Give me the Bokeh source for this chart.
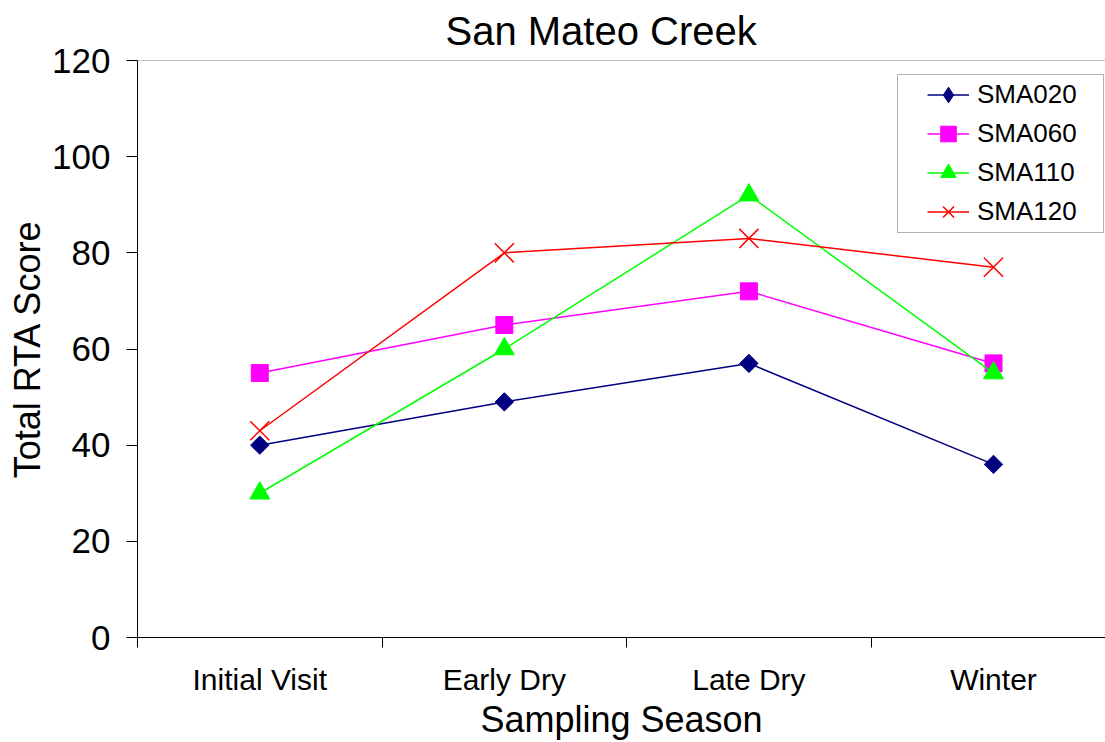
import math
from bokeh.plotting import figure
from bokeh.models import (Range1d, FixedTicker, Legend, LegendItem, Span,
                          BoxAnnotation, ColumnDataSource)
from bokeh.embed import file_html
from bokeh.resources import INLINE

# ---------------- data ----------------
seasons = ["Initial Visit", "Early Dry", "Late Dry", "Winter"]
sma020 = [40, 49, 57, 36]
sma060 = [55, 65, 72, 57]
sma110 = [30, 60, 92, 55]
sma120 = [43, 80, 83, 77]
series_names = ["SMA020", "SMA060", "SMA110", "SMA120"]
y_ticks = [0, 20, 40, 60, 80, 100, 120]

FONT = "Liberation Sans"

# category centres on a numeric axis (Excel style: ticks between categories)
x_pos = [i + 0.5 for i in range(len(seasons))]
boundaries = list(range(len(seasons) + 1))

p = figure(width=1105, height=742, output_backend="svg", toolbar_location=None,
           x_range=Range1d(0, 3.958), y_range=Range1d(0, 120),
           min_border_left=137, min_border_right=0, min_border_top=60,
           min_border_bottom=104, background_fill_color="white",
           border_fill_color="white")
p.outline_line_color = None
p.xgrid.visible = False
p.ygrid.visible = False

# title
p.title.text = "San Mateo Creek"
p.title.text_font = FONT
p.title.text_font_size = "40px"
p.title.text_font_style = "normal"
p.title.text_color = "black"
p.title.align = "left"
p.title.offset = 308
p.title.standoff = 12
p.title.vertical_align = "top"

# x axis
xa = p.xaxis[0]
xa.ticker = FixedTicker(ticks=x_pos, minor_ticks=boundaries)
xa.major_label_overrides = {x: s for x, s in zip(x_pos, seasons)}
xa.major_tick_out = 0
xa.major_tick_in = 0
xa.minor_tick_out = 10
xa.minor_tick_in = 0
xa.minor_tick_line_color = "black"
xa.axis_line_color = "black"
xa.major_label_text_font = FONT
xa.major_label_text_font_size = "30px"
xa.major_label_text_color = "black"
xa.major_label_standoff = 15
xa.axis_label = "Sampling Season"
xa.axis_label_text_font = FONT
xa.axis_label_text_font_size = "36px"
xa.axis_label_text_font_style = "normal"
xa.axis_label_text_color = "black"
xa.axis_label_standoff = 0

# y axis
ya = p.yaxis[0]
ya.ticker = FixedTicker(ticks=y_ticks)
ya.major_tick_out = 11
ya.major_tick_in = 0
ya.minor_tick_out = 0
ya.minor_tick_in = 0
ya.minor_tick_line_color = None
ya.axis_line_color = "black"
ya.major_tick_line_color = "black"
ya.major_label_text_font = FONT
ya.major_label_text_font_size = "35px"
ya.major_label_text_color = "black"
ya.major_label_standoff = 16
ya.axis_label = "Total RTA Score"
ya.axis_label_text_font = FONT
ya.axis_label_text_font_size = "36px"
ya.axis_label_text_font_style = "normal"
ya.axis_label_text_color = "black"
ya.axis_label_standoff = 1

# top border of the plot area
p.add_layout(Span(location=120, dimension="width", line_color="#808080",
                  line_width=1))

# series
styles = [
    dict(color="#000080", marker="square", size=13, angle=math.pi / 4, legend_marker="diamond"),
    dict(color="#FF00FF", marker="square", size=17, angle=0, legend_marker="square"),
    dict(color="#00FF00", marker="triangle", size=20, angle=0, legend_marker="triangle"),
    dict(color="#FF0000", marker="x", size=27, angle=0, legend_marker="x"),
]
all_vals = [sma020, sma060, sma110, sma120]
items = []
for name, vals, st in zip(series_names, all_vals, styles):
    src = ColumnDataSource(dict(x=x_pos, y=vals))
    lr = p.line("x", "y", source=src, line_color=st["color"], line_width=1.5)
    if st["marker"] == "x":
        p.scatter("x", "y", source=src, marker="x", size=st["size"],
                  line_color=st["color"], line_width=1.5)
        lm = p.scatter("x", "y", source=src, marker="x", size=st["size"],
                       line_color=st["color"], line_width=1.5, visible=False)
    else:
        p.scatter("x", "y", source=src, marker=st["marker"], size=st["size"],
                  angle=st["angle"], fill_color=st["color"], line_color=st["color"],
                  line_width=1)
        lm = p.scatter("x", "y", source=src, marker=st["legend_marker"],
                       size=st["size"], fill_color=st["color"],
                       line_color=st["color"], line_width=1, visible=False)
    items.append(LegendItem(label=name, renderers=[lr, lm]))

# legend frame
legend_box = BoxAnnotation(left=760, right=966, top=563, bottom=405,
                           left_units="screen", right_units="screen",
                           top_units="screen", bottom_units="screen",
                           fill_color="white", fill_alpha=1.0,
                           line_color="black", line_width=1)
p.add_layout(legend_box)

legend = Legend(items=items, location=(790, 406), padding=0, spacing=0,
                margin=0, glyph_width=42, glyph_height=39, label_height=39,
                label_standoff=8, label_text_font=FONT,
                label_text_font_size="26px", label_text_color="black",
                border_line_color=None, background_fill_alpha=0.0)
p.add_layout(legend)

open("out.html", "w").write(file_html(p, INLINE))
